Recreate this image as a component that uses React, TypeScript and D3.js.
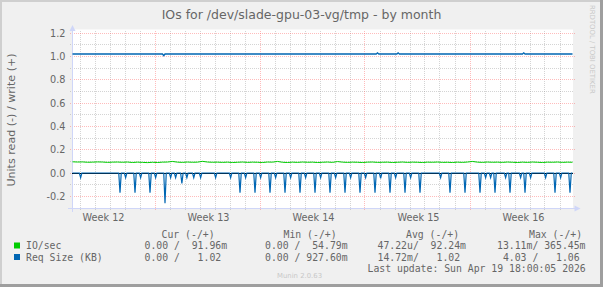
import React from "react";
import * as d3 from "d3";

// ---------- data ----------
const title = "IOs for /dev/slade-gpu-03-vg/tmp - by month";
const yTicks = [-0.2, 0, 0.2, 0.4, 0.6, 0.8, 1.0, 1.2];
const yMinor = [-0.3, -0.1, 0.1, 0.3, 0.5, 0.7, 0.9, 1.1];
const weekLabels = ["Week 12", "Week 13", "Week 14", "Week 15", "Week 16"];
const weekMidpoints = ["2026-03-19T12:00Z", "2026-03-26T12:00Z", "2026-04-02T12:00Z", "2026-04-09T12:00Z", "2026-04-16T12:00Z"];
const weekStarts = ["2026-03-23T00:00Z", "2026-03-30T00:00Z", "2026-04-06T00:00Z", "2026-04-13T00:00Z"];

// IO/sec write (+), one value every 8 hours from the start
const ioWrite = [
  0.096, 0.094, 0.095, 0.092, 0.093, 0.095, 0.094, 0.091, 0.093, 0.094,
  0.092, 0.094, 0.090, 0.093, 0.091, 0.089, 0.092, 0.090, 0.093, 0.094,
  0.099, 0.093, 0.091, 0.094, 0.092, 0.093, 0.100, 0.094, 0.092, 0.093,
  0.091, 0.093, 0.090, 0.092, 0.094, 0.091, 0.093, 0.092, 0.090, 0.094,
  0.093, 0.099, 0.092, 0.090, 0.093, 0.091, 0.094, 0.092, 0.093, 0.090,
  0.092, 0.094, 0.091, 0.098, 0.093, 0.091, 0.093, 0.092, 0.090, 0.093,
  0.094, 0.091, 0.092, 0.093, 0.090, 0.092, 0.094, 0.091, 0.093, 0.092,
  0.090, 0.093, 0.092, 0.094, 0.091, 0.092, 0.090, 0.093, 0.091, 0.094,
  0.099, 0.093, 0.091, 0.094, 0.092, 0.093, 0.091, 0.094, 0.092, 0.090,
  0.093, 0.091, 0.094, 0.092, 0.090, 0.093, 0.092, 0.094, 0.091, 0.093,
  0.092,
];

// Req Size write (+): base level and deviations
const reqWriteBase = 1.02;
const reqWriteEvents: [string, number][] = [
  ["2026-03-23T14:00Z", 1.005],
  ["2026-04-06T20:00Z", 1.03],
  ["2026-04-08T05:00Z", 1.03],
  ["2026-04-16T14:00Z", 1.03],
];

// Req Size read (-): spikes below zero
const reqReadSpikes: [string, number][] = [
  ["2026-03-18T01:00Z", -0.04],
  ["2026-03-20T16:00Z", -0.17],
  ["2026-03-21T01:00Z", -0.04],
  ["2026-03-21T16:00Z", -0.17],
  ["2026-03-22T01:00Z", -0.04],
  ["2026-03-22T16:00Z", -0.17],
  ["2026-03-23T01:00Z", -0.04],
  ["2026-03-23T16:00Z", -0.26],
  ["2026-03-24T01:00Z", -0.04],
  ["2026-03-24T09:00Z", -0.04],
  ["2026-03-24T19:00Z", -0.09],
  ["2026-03-25T03:00Z", -0.04],
  ["2026-03-25T14:00Z", -0.04],
  ["2026-03-26T01:00Z", -0.04],
  ["2026-03-27T01:00Z", -0.04],
  ["2026-03-28T01:00Z", -0.04],
  ["2026-03-28T16:00Z", -0.17],
  ["2026-03-29T01:00Z", -0.04],
  ["2026-03-29T16:00Z", -0.17],
  ["2026-03-30T01:00Z", -0.04],
  ["2026-03-30T16:00Z", -0.17],
  ["2026-03-31T01:00Z", -0.04],
  ["2026-03-31T16:00Z", -0.17],
  ["2026-04-01T01:00Z", -0.04],
  ["2026-04-01T16:00Z", -0.17],
  ["2026-04-02T01:00Z", -0.04],
  ["2026-04-02T16:00Z", -0.17],
  ["2026-04-03T01:00Z", -0.04],
  ["2026-04-03T16:00Z", -0.17],
  ["2026-04-04T01:00Z", -0.04],
  ["2026-04-04T16:00Z", -0.17],
  ["2026-04-05T01:00Z", -0.04],
  ["2026-04-05T16:00Z", -0.17],
  ["2026-04-06T01:00Z", -0.04],
  ["2026-04-06T16:00Z", -0.17],
  ["2026-04-07T01:00Z", -0.045],
  ["2026-04-07T16:00Z", -0.17],
  ["2026-04-08T01:00Z", -0.04],
  ["2026-04-08T16:00Z", -0.17],
  ["2026-04-09T01:00Z", -0.04],
  ["2026-04-09T16:00Z", -0.17],
  ["2026-04-11T01:00Z", -0.04],
  ["2026-04-11T16:00Z", -0.17],
  ["2026-04-12T16:00Z", -0.17],
  ["2026-04-13T16:00Z", -0.17],
  ["2026-04-14T01:00Z", -0.04],
  ["2026-04-14T09:00Z", -0.04],
  ["2026-04-14T16:00Z", -0.17],
  ["2026-04-15T09:00Z", -0.04],
  ["2026-04-15T16:00Z", -0.17],
  ["2026-04-16T09:00Z", -0.04],
  ["2026-04-16T16:00Z", -0.17],
  ["2026-04-17T01:00Z", -0.04],
  ["2026-04-18T01:00Z", -0.04],
  ["2026-04-18T16:00Z", -0.17],
  ["2026-04-19T01:00Z", -0.04],
  ["2026-04-19T16:00Z", -0.17],
];

const legendNames = ["IO/sec", "Req Size (KB)"];
const legendColors = ["#00CC00", "#0066B3"];
const colHeaders = ["Cur (-/+)", "Min (-/+)", "Avg (-/+)", "Max (-/+)"];
const colCur = ["0.00 /  91.96m", "0.00 /   1.02"];
const colMin = ["0.00 /  54.79m", "0.00 / 927.60m"];
const colAvg = ["47.22u/  92.24m", "14.72m/   1.02"];
const colMax = ["13.11m/ 365.45m", " 4.03 /   1.06"];
const lastUpdate = "Last update: Sun Apr 19 18:00:05 2026";

// ---------- layout ----------
const W = 603, H = 287;
const X0 = 72.5, X1 = 572.5;
const Y0 = 208, YTOP = 29.5;
const HOUR = 3600 * 1000;
const START = Date.UTC(2026, 2, 17, 12);
const END = START + (500 / 15) * 24 * HOUR;

const x = d3.scaleUtc().domain([new Date(START), new Date(END)]).range([X0, X1]);
const y = d3.scaleLinear().domain([-0.3, 1.2]).range([Y0, 33]);
const crisp = (v: number) => Math.round(v - 0.5) + 0.5;

const sans = "'DejaVu Sans', sans-serif";
const mono = "'DejaVu Sans Mono', monospace";
const FONT = "#666666";
const GRID = "rgba(143,143,143,0.38)";
const MGRID = "rgba(255,95,95,0.42)";

export default function App() {
  const days = d3.utcDay.range(new Date(START), new Date(END));
  const weekSet = new Set(weekStarts.map((s) => new Date(s).getTime()));

  const ioPts: [number, number][] = ioWrite.map((v, i) => [x(new Date(START + i * 8 * HOUR)), y(v)]);

  const rwPts: [number, number][] = [[x(new Date(START)), y(reqWriteBase)]];
  reqWriteEvents.forEach(([t, v]) => {
    const tt = new Date(t).getTime();
    rwPts.push([x(new Date(tt - 2 * HOUR)), y(reqWriteBase)]);
    rwPts.push([x(new Date(tt)), y(v)]);
    rwPts.push([x(new Date(tt + 2 * HOUR)), y(reqWriteBase)]);
  });
  rwPts.push([x(new Date(END)), y(reqWriteBase)]);

  const rrPts: [number, number][] = [[x(new Date(START)), y(0)]];
  reqReadSpikes.forEach(([t, v]) => {
    const tt = new Date(t).getTime();
    rrPts.push([x(new Date(tt - 2 * HOUR)), y(0)]);
    rrPts.push([x(new Date(tt)), y(v)]);
    rrPts.push([x(new Date(tt + 2 * HOUR)), y(0)]);
  });
  rrPts.push([x(new Date(END)), y(0)]);

  const line = d3.line();

  const rowY = [249, 260.5];
  const T = (props: any) => <text xmlSpace="preserve" style={{ whiteSpace: "pre" }} {...props} />;
  return (
    <svg width={W} height={H} style={{ position: "absolute", left: 0, top: 0 }} xmlns="http://www.w3.org/2000/svg">
      <rect x={0} y={0} width={W} height={H} fill="#F0F0F0" />
      {/* frame shading */}
      <rect x={0} y={0} width={W} height={2} fill="#CFCFCF" />
      <rect x={0} y={0} width={2} height={H} fill="#CFCFCF" />
      <rect x={0} y={H - 3} width={W} height={3} fill="#9E9E9E" />
      <rect x={W - 3} y={0} width={3} height={H} fill="#9E9E9E" />

      <text x={301.5} y={19} textAnchor="middle" fontFamily={sans} fontSize={12.5} fill={FONT}>{title}</text>
      <text transform="translate(590,5) rotate(90)" fontFamily={sans} fontSize={6.9} fill="#C8C8C8">RRDTOOL / TOBI OETIKER</text>

      {/* canvas */}
      <rect x={72} y={YTOP} width={501} height={Y0 - YTOP} fill="#FFFFFF" />

      {/* minor grid */}
      {days.filter((d) => !weekSet.has(d.getTime())).map((d, i) => (
        <line key={"vd" + i} x1={crisp(x(d))} x2={crisp(x(d))} y1={31} y2={210} stroke={GRID} strokeDasharray="1,1" />
      ))}
      {yMinor.map((v, i) => (
        <line key={"hm" + i} x1={70} x2={574} y1={crisp(y(v))} y2={crisp(y(v))} stroke={GRID} strokeDasharray="1,1" />
      ))}
      {/* major grid */}
      {weekStarts.map((s, i) => (
        <line key={"vw" + i} x1={crisp(x(new Date(s)))} x2={crisp(x(new Date(s)))} y1={31} y2={211} stroke={MGRID} strokeDasharray="1,1" />
      ))}
      {yTicks.map((v, i) => (
        <line key={"hM" + i} x1={70} x2={575} y1={crisp(y(v))} y2={crisp(y(v))} stroke={MGRID} strokeDasharray="1,1" />
      ))}

      {/* axes */}
      <line x1={68} x2={576} y1={Y0 + 0.5} y2={Y0 + 0.5} stroke="#CFD6F8" />
      <line x1={72.5} x2={72.5} y1={212} y2={27} stroke="#CFD6F8" />
      <polygon points="69.5,31 75.5,31 72.5,25" fill="#CFD6F8" />
      <polygon points="574.5,205.5 574.5,211.5 580.5,208.5" fill="#CFD6F8" />

      {/* zero line */}
      <line x1={72} x2={573} y1={y(0) + 0.5} y2={y(0) + 0.5} stroke="#000000" />

      {/* series */}
      <path d={line(ioPts) || ""} fill="none" stroke={legendColors[0]} strokeWidth={1} />
      <path d={line(rrPts) || ""} fill="none" stroke={legendColors[1]} strokeWidth={1.2} />
      <path d={line(rwPts) || ""} fill="none" stroke={legendColors[1]} strokeWidth={1.3} />

      {/* y labels */}
      {yTicks.map((v, i) => (
        <text key={"yl" + i} x={65.5} y={y(v) + 3.6} textAnchor="end" fontFamily={sans} fontSize={9.7} fill={FONT}>{v.toFixed(1)}</text>
      ))}
      <text transform="translate(15,120) rotate(-90)" textAnchor="middle" fontFamily={sans} fontSize={11.1} fill={FONT}>Units read (-) / write (+)</text>

      {/* x labels */}
      {weekLabels.map((l, i) => (
        <text key={"xl" + i} x={x(new Date(weekMidpoints[i])) + 1} y={221} textAnchor="middle" fontFamily={sans} fontSize={9.7} fill={FONT}>{l}</text>
      ))}

      {/* legend */}
      <g fontFamily={mono} fontSize={9.8} fill={FONT}>
        <T x={161.5} y={237.5}>{colHeaders[0]}</T>
        <T x={283.5} y={237.5}>{colHeaders[1]}</T>
        <T x={406} y={237.5}>{colHeaders[2]}</T>
        <T x={529} y={237.5}>{colHeaders[3]}</T>
        {legendNames.map((n, i) => (
          <g key={"lg" + i}>
            <rect x={14} y={rowY[i] - 6.5} width={6} height={6} fill={legendColors[i]} />
            <T x={26} y={rowY[i]}>{n}</T>
            <T x={144.5} y={rowY[i]}>{colCur[i]}</T>
            <T x={265} y={rowY[i]}>{colMin[i]}</T>
            <T x={377.5} y={rowY[i]}>{colAvg[i]}</T>
            <T x={497} y={rowY[i]}>{colMax[i]}</T>
          </g>
        ))}
        <T x={367.5} y={272}>{lastUpdate}</T>
      </g>
      <text x={277} y={278} fontFamily={sans} fontSize={6.9} fill="#C8C8C8">Munin 2.0.63</text>
    </svg>
  );
}
